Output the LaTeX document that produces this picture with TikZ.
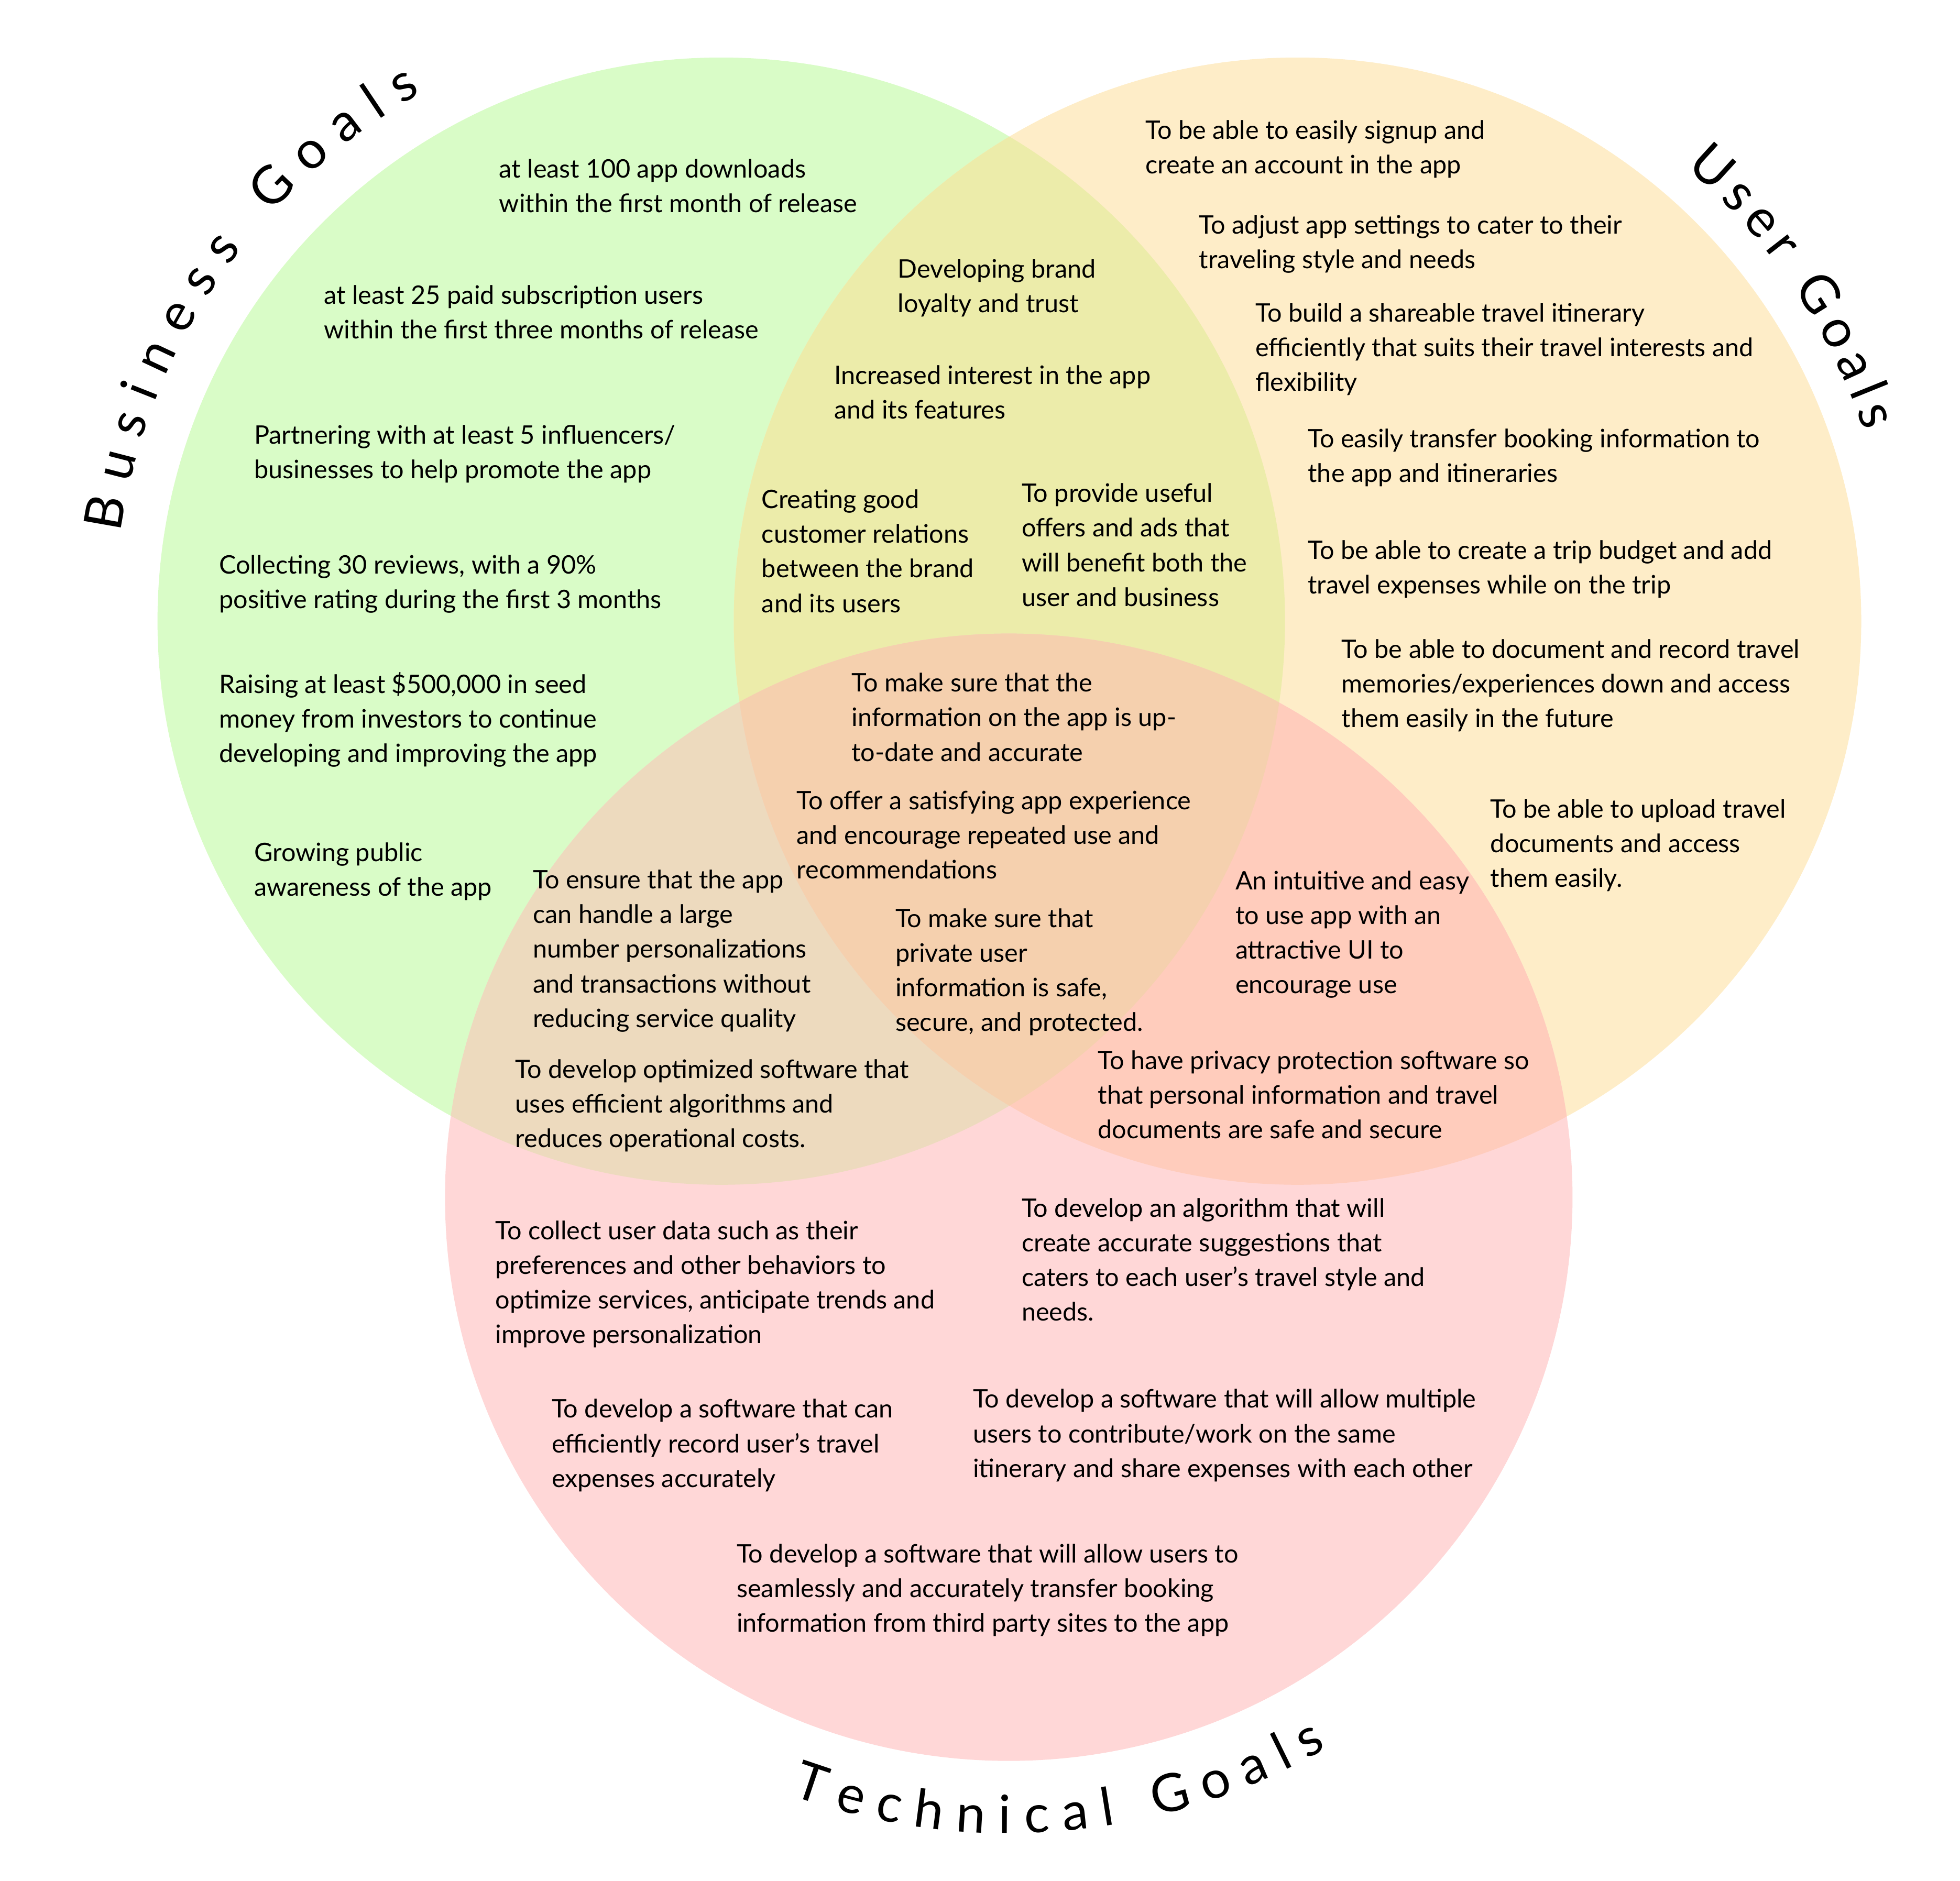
\documentclass[tikz,border=0pt]{standalone}
\usepackage{fontspec}
\setmainfont{Lato}
\usepackage{xcolor}
\usepackage{tikz}
\usetikzlibrary{
  decorations.text
}
\definecolor{bizgreen}{RGB}{217,252,199}
\definecolor{userorange}{RGB}{254,237,200}
\definecolor{techred}{RGB}{255,215,215}
\definecolor{bizuser}{RGB}{236,236,170}
\definecolor{biztech}{RGB}{237,218,190}
\definecolor{usertech}{RGB}{255,204,188}
\definecolor{allthree}{RGB}{245,208,174}
\newcommand{\goalfont}{\fontsize{11.6}{15.77}\selectfont}
\newcommand{\titlefont}{\fontsize{24}{24}\selectfont}
\tikzset{
  goal/.style={
    anchor=base west,
    align=left,
    inner sep=0pt,
    font=\goalfont
  },
  titlearc/.style={
    decorate,
    decoration={text along path, text align={fit to path}, text={|\titlefont|#1}}
  }
}

\begin{document}
\begin{tikzpicture}[x=0.02cm, y=0.02cm]
  \useasboundingbox (0,0) rectangle (1568,-1505);
  \coordinate (biz) at (577,-497);
  \coordinate (user) at (1038,-497);
  \coordinate (tech) at (807,-958);

  % circles and their overlaps
  \fill[bizgreen] (biz) circle[radius=451];
  \fill[userorange] (user) circle[radius=451];
  \fill[techred] (tech) circle[radius=451];
  \begin{scope}
    \clip (biz) circle[radius=451];
    \fill[bizuser] (user) circle[radius=451];
    \fill[biztech] (tech) circle[radius=451];
  \end{scope}
  \begin{scope}
    \clip (user) circle[radius=451];
    \fill[usertech] (tech) circle[radius=451];
    \clip (tech) circle[radius=451];
    \fill[allthree] (biz) circle[radius=451];
  \end{scope}

  % curved titles
  \path[titlearc={Business Goals}] (biz) ++(171.6:486) arc[start angle=171.6, end angle=119.6, radius=486];
  \path[titlearc={User Goals}] (user) ++(49.5:478) arc[start angle=49.5, end angle=18.5, radius=478];
  \path[titlearc={Technical Goals}] (tech) ++(250:509) arc[start angle=250, end angle=300, radius=509];

  % business (anchored at the baseline of the last line)
  \node[goal] (downloads) at (399,-170) {at least 100 app downloads\\within the first month of release};
  \node[goal] (subscribers) at (259,-271) {at least 25 paid subscription users\\within the first three months of release};
  \node[goal] (partners) at (203,-383) {Partnering with at least 5 influencers/\\businesses to help promote the app};
  \node[goal] (reviews) at (175,-487) {Collecting 30 reviews, with a 90\%\\positive rating during the first 3 months};
  \node[goal] (seed) at (175,-610) {Raising at least \$500,000 in seed\\money from investors to continue\\developing and improving the app};
  \node[goal] (awareness) at (203,-717) {Growing public\\awareness of the app};

  % business and user
  \node[goal] (loyalty) at (718,-250) {Developing brand\\loyalty and trust};
  \node[goal] (interest) at (667,-335) {Increased interest in the app\\and its features};
  \node[goal] (relations) at (609,-490) {Creating good\\customer relations\\between the brand\\and its users};
  \node[goal] (offers) at (817,-485) {To provide useful\\offers and ads that\\will benefit both the\\user and business};

  % user
  \node[goal] (signup) at (916,-139) {To be able to easily signup and\\create an account in the app};
  \node[goal] (settings) at (959,-215) {To adjust app settings to cater to their\\traveling style and needs};
  \node[goal] (itinerary) at (1004,-313) {To build a shareable travel itinerary\\efficiently that suits their travel interests and\\flexibility};
  \node[goal] (transfer) at (1046,-386) {To easily transfer booking information to\\the app and itineraries};
  \node[goal] (budget) at (1046,-475) {To be able to create a trip budget and add\\travel expenses while on the trip};
  \node[goal] (memories) at (1073,-582) {To be able to document and record travel\\memories/experiences down and access\\them easily in the future};
  \node[goal] (upload) at (1192,-710) {To be able to upload travel\\documents and access\\them easily.};

  % all three
  \node[goal] (uptodate) at (681,-609) {To make sure that the\\information on the app is up-\\to-date and accurate};
  \node[goal] (experience) at (637,-703) {To offer a satisfying app experience\\and encourage repeated use and\\recommendations};
  \node[goal] (privacy) at (716,-825) {To make sure that\\private user\\information is safe,\\secure, and protected.};

  % business and technical
  \node[goal] (scaling) at (426,-822) {To ensure that the app\\can handle a large\\number personalizations\\and transactions without\\reducing service quality};
  \node[goal] (optimized) at (412,-918) {To develop optimized software that\\uses efficient algorithms and\\reduces operational costs.};

  % user and technical
  \node[goal] (intuitive) at (988,-795) {An intuitive and easy\\to use app with an\\attractive UI to\\encourage use};
  \node[goal] (protection) at (878,-911) {To have privacy protection software so\\that personal information and travel\\documents are safe and secure};

  % technical
  \node[goal] (userdata) at (396,-1075) {To collect user data such as their\\preferences and other behaviors to\\optimize services, anticipate trends and\\improve personalization};
  \node[goal] (suggestions) at (817,-1057) {To develop an algorithm that will\\create accurate suggestions that\\caters to each user’s travel style and\\needs.};
  \node[goal] (expenses) at (441,-1190) {To develop a software that can\\efficiently record user’s travel\\expenses accurately};
  \node[goal] (sharing) at (778,-1182) {To develop a software that will allow multiple\\users to contribute/work on the same\\itinerary and share expenses with each other};
  \node[goal] (booking) at (589,-1306) {To develop a software that will allow users to\\seamlessly and accurately transfer booking\\information from third party sites to the app};
\end{tikzpicture}
\end{document}
